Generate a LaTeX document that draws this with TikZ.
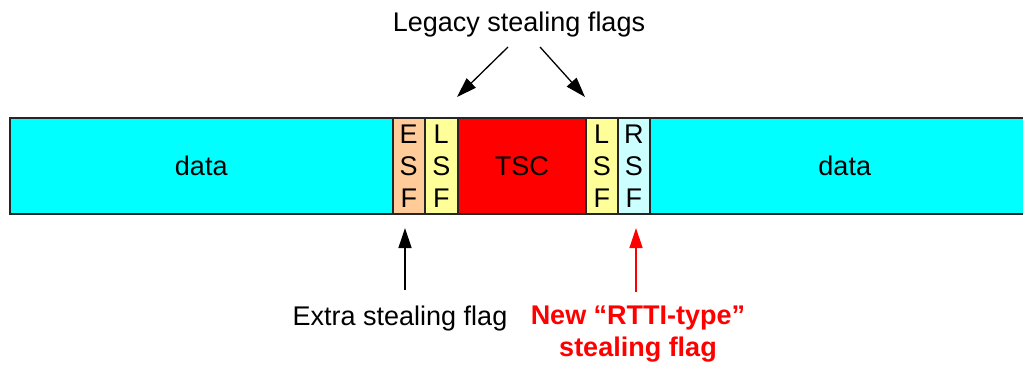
\documentclass[tikz,border=0pt]{standalone}
\usepackage{fontspec}
\setmainfont{Liberation Sans}
\usetikzlibrary{arrows.meta}
\definecolor{datacyan}{HTML}{00FFFF}
\definecolor{esfpeach}{HTML}{FFCC99}
\definecolor{lsfyellow}{HTML}{FFFF99}
\definecolor{rsfcyan}{HTML}{CCFFFF}
\definecolor{newred}{HTML}{FF0000}
\begin{document}
\begin{tikzpicture}[x=1pt,y=-1pt,
    font=\fontsize{27}{32}\selectfont,
    field/.style={draw=black!85,line width=1.5pt,inner sep=0pt,anchor=north west,
      minimum height=96pt,align=center},
    flagarrow/.style={-{Triangle[length=20pt,width=13pt]},line width=1.3pt}]
  \useasboundingbox (0,0) rectangle (1023,367);
  % the stored word
  \node[field,fill=datacyan,minimum width=383pt] (dataL) at (9,117) {data};
  \node[field,fill=esfpeach,minimum width=32pt] (esf) at (392,117) {E\\S\\F};
  \node[field,fill=lsfyellow,minimum width=33pt] (lsfL) at (424,117) {L\\S\\F};
  \node[field,fill=newred,minimum width=128pt] (tsc) at (457,117) {TSC};
  \node[field,fill=lsfyellow,minimum width=32pt] (lsfR) at (585,117) {L\\S\\F};
  \node[field,fill=rsfcyan,minimum width=32pt] (rsf) at (617,117) {R\\S\\F};
  \node[field,fill=datacyan,minimum width=390pt] (dataR) at (649,117) {data};
  % labels
  \node[anchor=base] (legacy) at (519,31) {Legacy stealing flags};
  \node[anchor=base] (extra) at (400,325) {Extra stealing flag};
  \node[anchor=north,align=center,text=newred,font=\fontsize{27}{32}\selectfont\bfseries]
    (rtti) at (638,302) {New “RTTI-type”\\stealing flag};
  % arrows
  \coordinate (legL) at (508,47);
  \coordinate (legR) at (540,47);
  \coordinate (tipL) at (457,97);
  \coordinate (tipR) at (585,97);
  \draw[flagarrow] (legL) -- (tipL);
  \draw[flagarrow] (legR) -- (tipR);
  \draw[flagarrow] (extra.north -| 405,0) ++(0,-12) -- (405,228);
  \draw[flagarrow,draw=newred,fill=newred] (rtti.north -| 636,0) ++(0,-10) -- (636,228);
\end{tikzpicture}
\end{document}
